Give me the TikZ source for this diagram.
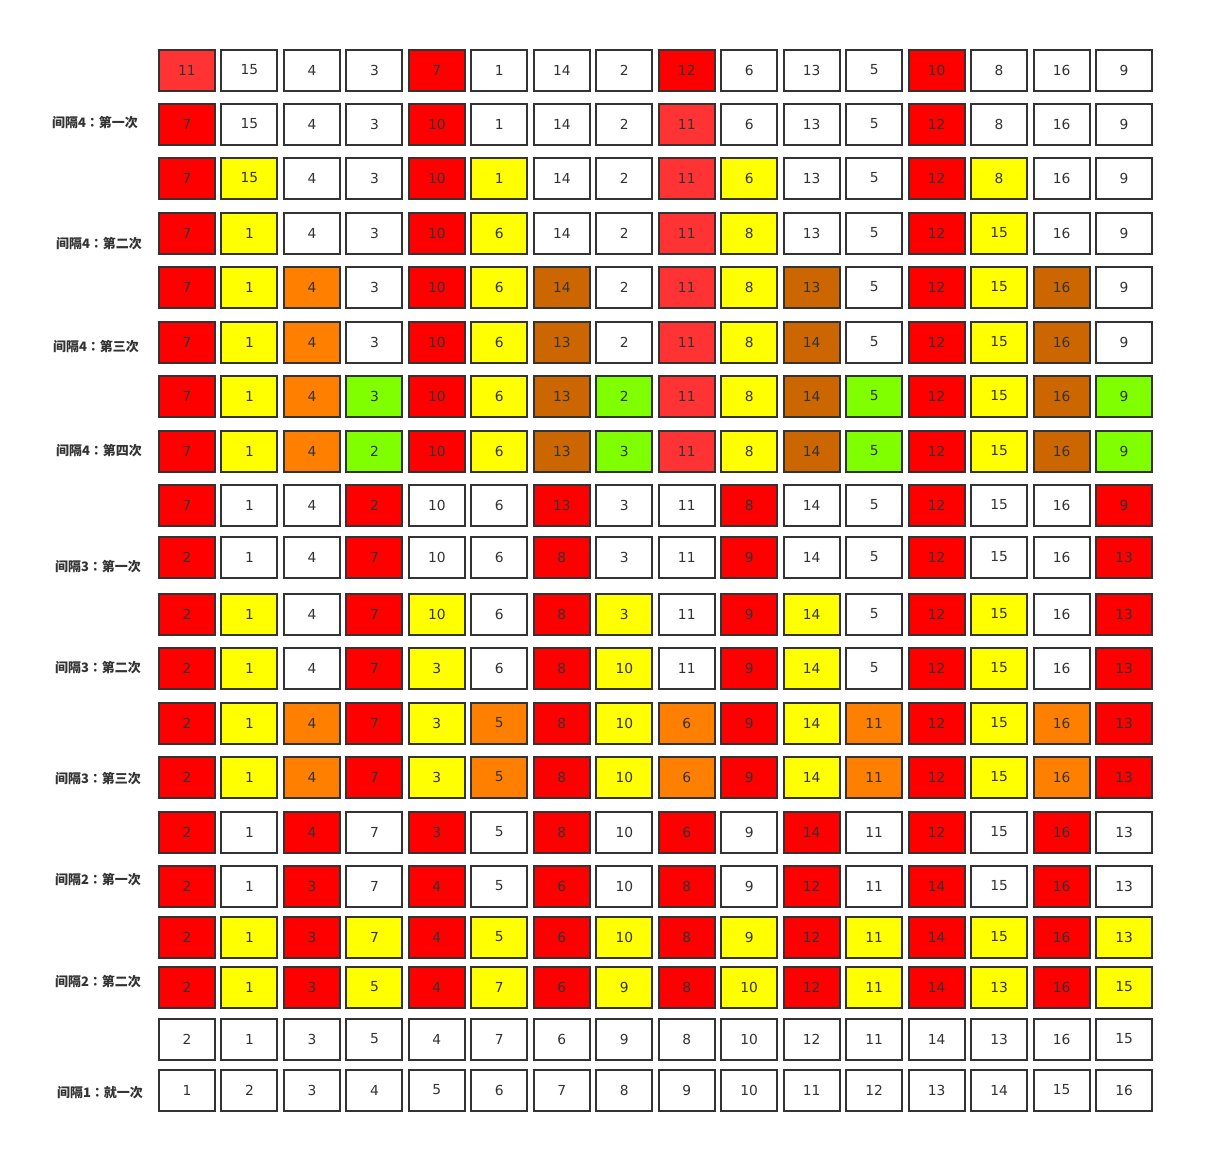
\documentclass[tikz,border=0pt]{standalone}
\usepackage{fontspec}
\setmainfont{DejaVu Sans}
\newfontfamily\cjk{Noto Sans CJK SC}
\newfontfamily\cjkpunct{Noto Sans CJK TC}
\newcommand{\pcolon}{{\cjkpunct\bfseries ：}}
\definecolor{inkgray}{HTML}{333333}
\definecolor{cW}{HTML}{FFFFFF}
\definecolor{cR}{HTML}{FF0000}
\definecolor{cL}{HTML}{FF3333}
\definecolor{cY}{HTML}{FFFF00}
\definecolor{cO}{HTML}{FF8000}
\definecolor{cB}{HTML}{CC6600}
\definecolor{cG}{HTML}{80FF00}
\tikzset{
  cell/.style={draw=inkgray, line width=2pt, minimum width=56pt, minimum height=41pt,
    inner sep=0pt, text=inkgray, font=\fontsize{13.8}{16}\selectfont},
  passlabel/.style={text=inkgray, inner sep=0pt, font=\cjk\bfseries\fontsize{13}{15}\selectfont}
}
\begin{document}
\begin{tikzpicture}[x=1pt,y=-1pt]
\useasboundingbox (0,0) rectangle (1218,1173);
\foreach \r/\y/\cells in {
  1/70/{11/L,15/W,4/W,3/W,7/R,1/W,14/W,2/W,12/R,6/W,13/W,5/W,10/R,8/W,16/W,9/W},
  2/124/{7/R,15/W,4/W,3/W,10/R,1/W,14/W,2/W,11/L,6/W,13/W,5/W,12/R,8/W,16/W,9/W},
  3/178/{7/R,15/Y,4/W,3/W,10/R,1/Y,14/W,2/W,11/L,6/Y,13/W,5/W,12/R,8/Y,16/W,9/W},
  4/233/{7/R,1/Y,4/W,3/W,10/R,6/Y,14/W,2/W,11/L,8/Y,13/W,5/W,12/R,15/Y,16/W,9/W},
  5/287/{7/R,1/Y,4/O,3/W,10/R,6/Y,14/B,2/W,11/L,8/Y,13/B,5/W,12/R,15/Y,16/B,9/W},
  6/342/{7/R,1/Y,4/O,3/W,10/R,6/Y,13/B,2/W,11/L,8/Y,14/B,5/W,12/R,15/Y,16/B,9/W},
  7/396/{7/R,1/Y,4/O,3/G,10/R,6/Y,13/B,2/G,11/L,8/Y,14/B,5/G,12/R,15/Y,16/B,9/G},
  8/451/{7/R,1/Y,4/O,2/G,10/R,6/Y,13/B,3/G,11/L,8/Y,14/B,5/G,12/R,15/Y,16/B,9/G},
  9/505/{7/R,1/W,4/W,2/R,10/W,6/W,13/R,3/W,11/W,8/R,14/W,5/W,12/R,15/W,16/W,9/R},
  10/557/{2/R,1/W,4/W,7/R,10/W,6/W,8/R,3/W,11/W,9/R,14/W,5/W,12/R,15/W,16/W,13/R},
  11/614/{2/R,1/Y,4/W,7/R,10/Y,6/W,8/R,3/Y,11/W,9/R,14/Y,5/W,12/R,15/Y,16/W,13/R},
  12/668/{2/R,1/Y,4/W,7/R,3/Y,6/W,8/R,10/Y,11/W,9/R,14/Y,5/W,12/R,15/Y,16/W,13/R},
  13/723/{2/R,1/Y,4/O,7/R,3/Y,5/O,8/R,10/Y,6/O,9/R,14/Y,11/O,12/R,15/Y,16/O,13/R},
  14/777/{2/R,1/Y,4/O,7/R,3/Y,5/O,8/R,10/Y,6/O,9/R,14/Y,11/O,12/R,15/Y,16/O,13/R},
  15/832/{2/R,1/W,4/R,7/W,3/R,5/W,8/R,10/W,6/R,9/W,14/R,11/W,12/R,15/W,16/R,13/W},
  16/886/{2/R,1/W,3/R,7/W,4/R,5/W,6/R,10/W,8/R,9/W,12/R,11/W,14/R,15/W,16/R,13/W},
  17/937/{2/R,1/Y,3/R,7/Y,4/R,5/Y,6/R,10/Y,8/R,9/Y,12/R,11/Y,14/R,15/Y,16/R,13/Y},
  18/987/{2/R,1/Y,3/R,5/Y,4/R,7/Y,6/R,9/Y,8/R,10/Y,12/R,11/Y,14/R,13/Y,16/R,15/Y},
  19/1039/{2/W,1/W,3/W,5/W,4/W,7/W,6/W,9/W,8/W,10/W,12/W,11/W,14/W,13/W,16/W,15/W},
  20/1090/{1/W,2/W,3/W,4/W,5/W,6/W,7/W,8/W,9/W,10/W,11/W,12/W,13/W,14/W,15/W,16/W}}{
  \foreach \n/\c [count=\i] in \cells{
    \node[cell, fill=c\c] (c\r-\i) at ({187+62.47*(\i-1)},\y) {\n};
  }
}
\node[passlabel] (lab1) at (95,123) {间隔4\pcolon 第一次};
\node[passlabel] (lab2) at (99,244) {间隔4\pcolon 第二次};
\node[passlabel] (lab3) at (96,347) {间隔4\pcolon 第三次};
\node[passlabel] (lab4) at (99,451) {间隔4\pcolon 第四次};
\node[passlabel] (lab5) at (98,567) {间隔3\pcolon 第一次};
\node[passlabel] (lab6) at (98,668) {间隔3\pcolon 第二次};
\node[passlabel] (lab7) at (98,779) {间隔3\pcolon 第三次};
\node[passlabel] (lab8) at (98,880) {间隔2\pcolon 第一次};
\node[passlabel] (lab9) at (98,982) {间隔2\pcolon 第二次};
\node[passlabel] (lab10) at (100,1093) {间隔1\pcolon 就一次};
\end{tikzpicture}
\end{document}
